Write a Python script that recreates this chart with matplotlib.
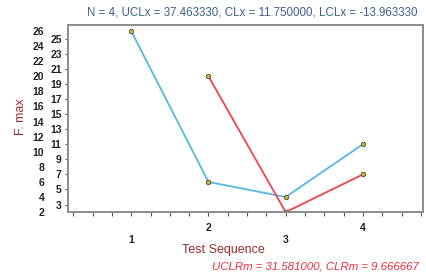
import numpy as np
import matplotlib.pyplot as plt
from matplotlib.ticker import MultipleLocator

plt.rcParams['font.family'] = ['Liberation Sans', 'DejaVu Sans']

# individual values and moving ranges
sequence = [1, 2, 3, 4]
f_max = [26, 6, 4, 11]
moving_range = [np.nan, 20, 2, 7]

x_ticklabels = ['\n1', '2', '\n3', '4']
odd_ticks = [3, 5, 7, 9, 11, 13, 15, 17, 19, 21, 23, 25]
even_ticks = [2, 4, 6, 8, 10, 12, 14, 16, 18, 20, 22, 24, 26]

title = 'N = 4, UCLx = 37.463330, CLx = 11.750000, LCLx = -13.963330'
footer = 'UCLRm = 31.581000, CLRm = 9.666667'

blue = '#58b6e4'
red = '#f0424e'
label_red = '#9a2c2c'
frame = '#8c8c8c'

fig = plt.figure(figsize=(4.27, 2.78), dpi=100)
ax = fig.add_axes([0.159, 0.237, 0.832, 0.673])

marker = dict(marker='o', markersize=3.2, markerfacecolor='#c9b83a',
              markeredgecolor='#4a4a2a', markeredgewidth=0.6)
ax.plot(sequence, f_max, color=blue, lw=1.3, **marker, zorder=3)
ax.plot(sequence, moving_range, color=red, lw=1.3, **marker, zorder=3)

ax.set_xlim(0.18, 4.78)
ax.set_ylim(2, 26.8)

ax.set_xticks(sequence)
ax.set_xticklabels(x_ticklabels, fontsize=7.5, fontweight='bold', color='#222222',
                   linespacing=1.25)
ax.xaxis.set_minor_locator(MultipleLocator(0.25))
ax.tick_params(axis='x', which='both', direction='out', length=3, width=0.8,
               color='#555555', pad=5)

ax.set_yticks(odd_ticks)
ax.set_yticklabels([str(v) for v in odd_ticks], fontsize=7.5, fontweight='bold',
                   color='#222222')
ax.tick_params(axis='y', which='both', direction='out', length=2.5, width=0.8,
               color='#555555', pad=2)

# second scale with even labels, further left
ax2 = ax.twinx()
ax2.set_ylim(ax.get_ylim())
ax2.yaxis.set_ticks_position('left')
ax2.yaxis.set_label_position('left')
ax2.set_yticks(even_ticks)
ax2.set_yticklabels([str(v) for v in even_ticks], fontsize=7.5, fontweight='bold',
                    color='#222222')
ax2.tick_params(axis='y', length=0, pad=17)

for a in (ax, ax2):
    for s in a.spines.values():
        s.set_color(frame)
        s.set_linewidth(1.2)

fig.text(0.05, 0.58, 'F. max', rotation=90, ha='center', va='center',
         fontsize=9, color=label_red)
fig.text(0.522, 0.10, 'Test Sequence', ha='center', va='center',
         fontsize=9, color=label_red)
fig.text(0.59, 0.955, title, ha='center', va='center', fontsize=8.3,
         color='#3d5f8e')
fig.text(0.98, 0.04, footer, ha='right', va='center', fontsize=8.2,
         color='#e8303c', style='italic')

fig.savefig('out.png', dpi=100)
